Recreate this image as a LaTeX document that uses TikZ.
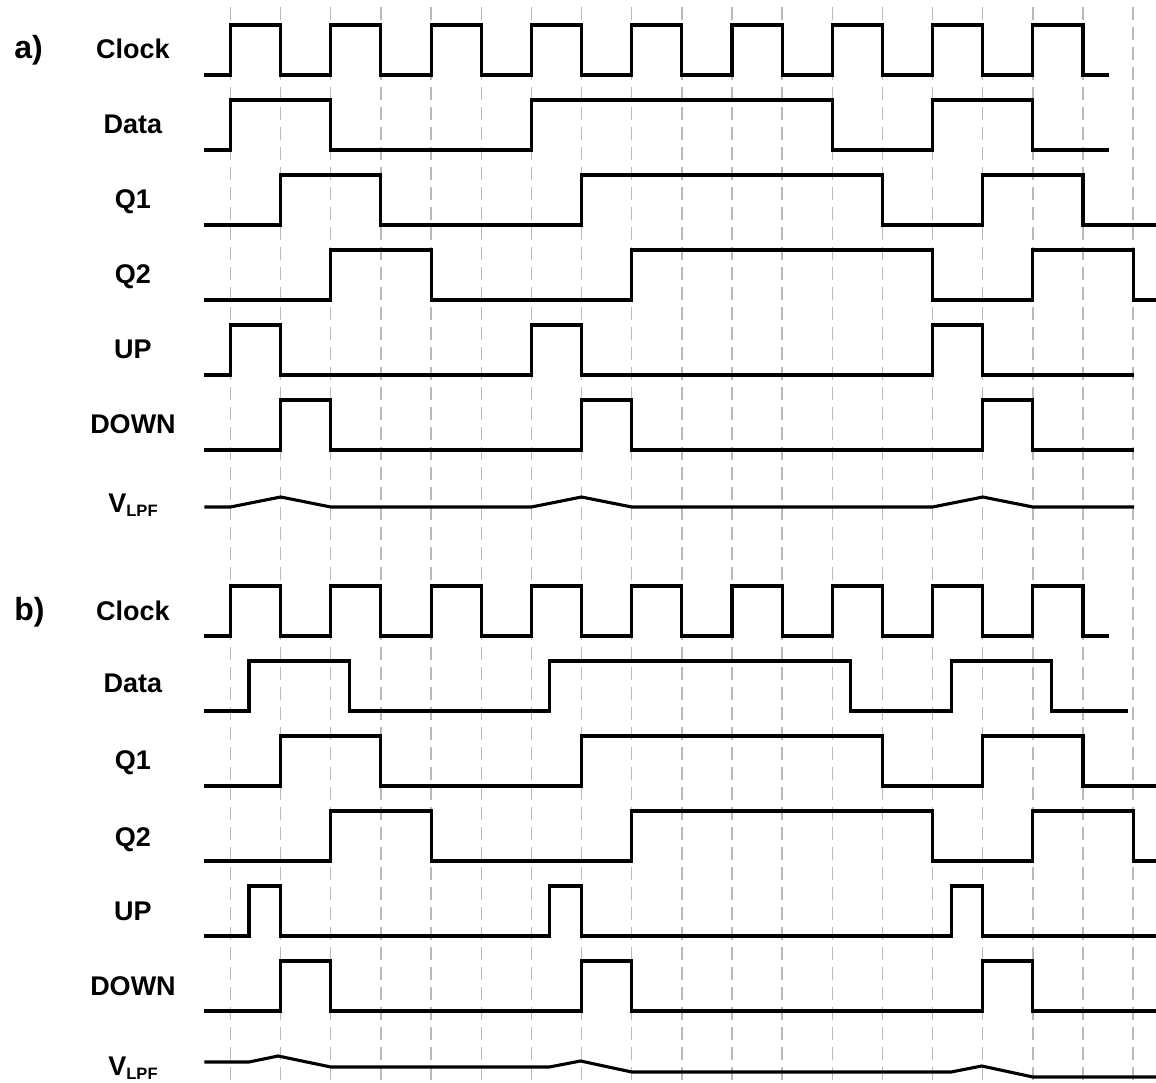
\documentclass[tikz,border=0pt]{standalone}
\usepackage{fontspec}
\setmainfont{Liberation Sans}

\begin{document}
\begin{tikzpicture}[%
      x=50.15pt, y=-1pt,
      wave/.style={color=black, line width=3.1pt, line join=miter},
      gridline/.style={color=gray!55, line width=1.4pt, dash pattern=on 13pt off 7pt},
      lbl/.style={font=\fontsize{27}{30}\selectfont\bfseries, anchor=base},
      part/.style={font=\fontsize{32}{34}\selectfont\bfseries, anchor=base west},
      ]
      \useasboundingbox (-4.596,0) rectangle (18.455,1083);

      \foreach \k in {0,...,18}
        \draw [gridline] (\k,7) -- (\k,1083);

      % a)
      \begin{scope}
      \node [part] (partA) at (-4.38,59) {a)};
      \node [lbl] (clockA) at (-1.944,59) {Clock};
      \node [lbl] (dataA) at (-1.944,134) {Data};
      \node [lbl] (qoneA) at (-1.944,209) {Q1};
      \node [lbl] (qtwoA) at (-1.944,284) {Q2};
      \node [lbl] (upA) at (-1.944,359) {UP};
      \node [lbl] (downA) at (-1.944,434) {DOWN};
      \node [lbl] (vlpfA) at (-1.944,513) {V\raisebox{-4pt}{\fontsize{16.5}{18}\selectfont LPF}};

      \draw [wave] (-0.52,75) \foreach \k in {0,2,...,16} {-- (\k,75) -- (\k,25) -- (\k+1,25) -- (\k+1,75)} -- (17.52,75);
      \draw [wave] (-0.52,150) -- (0,150) -- (0,100) -- (2,100) -- (2,150) -- (6,150) -- (6,100) -- (12,100)
            -- (12,150) -- (14,150) -- (14,100) -- (16,100) -- (16,150) -- (17.52,150);
      \draw [wave] (-0.52,225) -- (1,225) -- (1,175) -- (3,175) -- (3,225) -- (7,225) -- (7,175) -- (13,175)
            -- (13,225) -- (15,225) -- (15,175) -- (17,175) -- (17,225) -- (18.46,225);
      \draw [wave] (-0.52,300) -- (2,300) -- (2,250) -- (4,250) -- (4,300) -- (8,300) -- (8,250) -- (14,250)
            -- (14,300) -- (16,300) -- (16,250) -- (18,250) -- (18,300) -- (18.46,300);
      \draw [wave] (-0.52,375) -- (0,375) -- (0,325) -- (1,325) -- (1,375) -- (6,375) -- (6,325) -- (7,325)
            -- (7,375) -- (14,375) -- (14,325) -- (15,325) -- (15,375) -- (18.02,375);
      \draw [wave] (-0.52,450) -- (1,450) -- (1,400) -- (2,400) -- (2,450) -- (7,450) -- (7,400) -- (8,400)
            -- (8,450) -- (15,450) -- (15,400) -- (16,400) -- (16,450) -- (18.02,450);
      \draw [wave] (-0.52,507) -- (0,507) -- (1,497) -- (2,507) -- (6,507) -- (7,497) -- (8,507)
            -- (14,507) -- (15,497) -- (16,507) -- (18.02,507);
      \end{scope}

      % b)
      \begin{scope}[yshift=-561pt]
      \node [part] (partB) at (-4.38,60) {b)};
      \node [lbl] (clockB) at (-1.944,60) {Clock};
      \node [lbl] (dataB) at (-1.944,131) {Data};
      \node [lbl] (qoneB) at (-1.944,209) {Q1};
      \node [lbl] (qtwoB) at (-1.944,285) {Q2};
      \node [lbl] (upB) at (-1.944,359) {UP};
      \node [lbl] (downB) at (-1.944,434) {DOWN};
      \node [lbl] (vlpfB) at (-1.944,514) {V\raisebox{-4pt}{\fontsize{16.5}{18}\selectfont LPF}};

      \draw [wave] (-0.52,75) \foreach \k in {0,2,...,16} {-- (\k,75) -- (\k,25) -- (\k+1,25) -- (\k+1,75)} -- (17.52,75);
      \draw [wave] (-0.52,150) -- (0.37,150) -- (0.37,100) -- (2.38,100) -- (2.38,150) -- (6.36,150) -- (6.36,100) -- (12.36,100)
            -- (12.36,150) -- (14.37,150) -- (14.37,100) -- (16.38,100) -- (16.38,150) -- (17.9,150);
      \draw [wave] (-0.52,225) -- (1,225) -- (1,175) -- (3,175) -- (3,225) -- (7,225) -- (7,175) -- (13,175)
            -- (13,225) -- (15,225) -- (15,175) -- (17,175) -- (17,225) -- (18.46,225);
      \draw [wave] (-0.52,300) -- (2,300) -- (2,250) -- (4,250) -- (4,300) -- (8,300) -- (8,250) -- (14,250)
            -- (14,300) -- (16,300) -- (16,250) -- (18,250) -- (18,300) -- (18.46,300);
      \draw [wave] (-0.52,375) -- (0.37,375) -- (0.37,325) -- (1,325) -- (1,375) -- (6.36,375) -- (6.36,325) -- (7,325)
            -- (7,375) -- (14.37,375) -- (14.37,325) -- (15,325) -- (15,375) -- (18.46,375);
      \draw [wave] (-0.52,450) -- (1,450) -- (1,400) -- (2,400) -- (2,450) -- (7,450) -- (7,400) -- (8,400)
            -- (8,450) -- (15,450) -- (15,400) -- (16,400) -- (16,450) -- (18.46,450);
      \draw [wave] (-0.52,501) -- (0.37,501) -- (0.95,495) -- (2,506) -- (6.36,506) -- (6.98,500) -- (8,511)
            -- (14.37,511) -- (14.98,505) -- (16,516) -- (18.46,516);
      \end{scope}
\end{tikzpicture}
\end{document}
